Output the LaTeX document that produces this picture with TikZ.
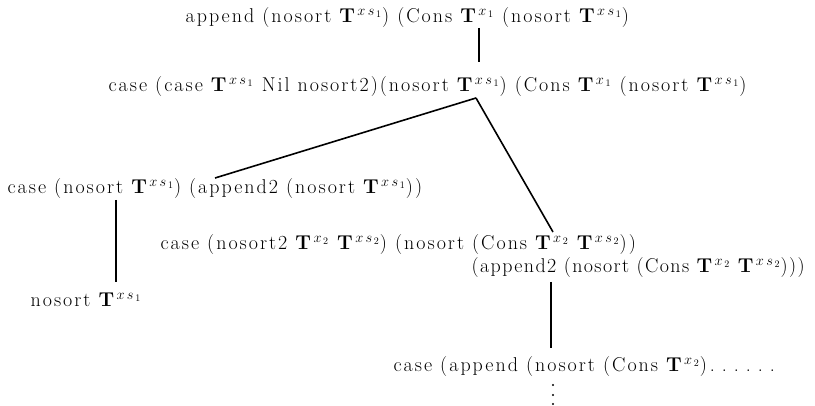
\documentclass[tikz,border=0pt]{standalone}
\usepackage{fontspec}
\setmainfont{Latin Modern Roman}[LetterSpace=10]
\usetikzlibrary{calc}
\newcommand{\Tv}[1]{\mathbf{T}^{\,#1}}
\newcommand{\wdots}{\hspace{3pt}.\hspace{7pt}.\hspace{7pt}.\hspace{7pt}.\hspace{7pt}.\hspace{7pt}.}
\tikzset{
  every picture/.style={line width=1.2pt},
  term/.style={font=\fontsize{20}{23}\selectfont, inner sep=0pt, anchor=west},
  edge/.style={draw=black, line width=2.6pt},
  thin edge/.style={draw=black, line width=1.6pt},
}
\begin{document}
\begin{tikzpicture}[x=1pt, y=-1pt]
  \useasboundingbox (0,0) rectangle (815,406);
  % the reduction tree, root at the top
  \node[term] (root) at (185,18) {append (nosort $\Tv{x\,s_{\,1}}$) (Cons $\Tv{x_{\,1}}$ (nosort $\Tv{x\,s_{\,1}}$)};
  \node[term] (caseA) at (108,87) {case (case $\Tv{x\,s_{\,1}}$ Nil nosort2)(nosort $\Tv{x\,s_{\,1}}$) (Cons $\Tv{x_{\,1}}$ (nosort $\Tv{x\,s_{\,1}}$)};
  \node[term] (caseL) at (7,189) {case (nosort $\Tv{x\,s_{\,1}}$) (append2 (nosort $\Tv{x\,s_{\,1}}$))};
  \node[term] (leaf) at (30,300) {nosort $\Tv{x\,s_{\,1}}$};
  \node[term] (caseR) at (160,245) {case (nosort2 $\Tv{x_{\,2}}$ $\Tv{x\,s_{\,2}}$) (nosort (Cons $\Tv{x_{\,2}}$ $\Tv{x\,s_{\,2}}$))};
  \node[term] (caseR2) at (471,268) {\addfontfeature{LetterSpace=7}(append2 (nosort (Cons $\Tv{x_{\,2}}$ $\Tv{x\,s_{\,2}}$)))};
  \node[term] (last) at (393,367) {case (append (nosort (Cons $\Tv{x_{\,2}}$)\wdots};
  % end points of the branches
  \coordinate (r0) at (479,28);
  \coordinate (a0) at (479,62);
  \coordinate (a1) at (476,98);
  \coordinate (l0) at (215,178);
  \coordinate (r1) at (553,232);
  \coordinate (l1) at (116,200);
  \coordinate (l2) at (116,282);
  \coordinate (c0) at (551,282);
  \coordinate (c1) at (551,348);
  \draw[edge] (r0) -- (a0);
  \draw[thin edge] (a1) -- (l0);
  \draw[thin edge] (a1) -- (r1);
  \draw[edge] (l1) -- (l2);
  \draw[edge] (c0) -- (c1);
  % the tree goes on below
  \foreach \y in {385,395,404} \fill (553,\y) circle (1.1pt);
\end{tikzpicture}
\end{document}
